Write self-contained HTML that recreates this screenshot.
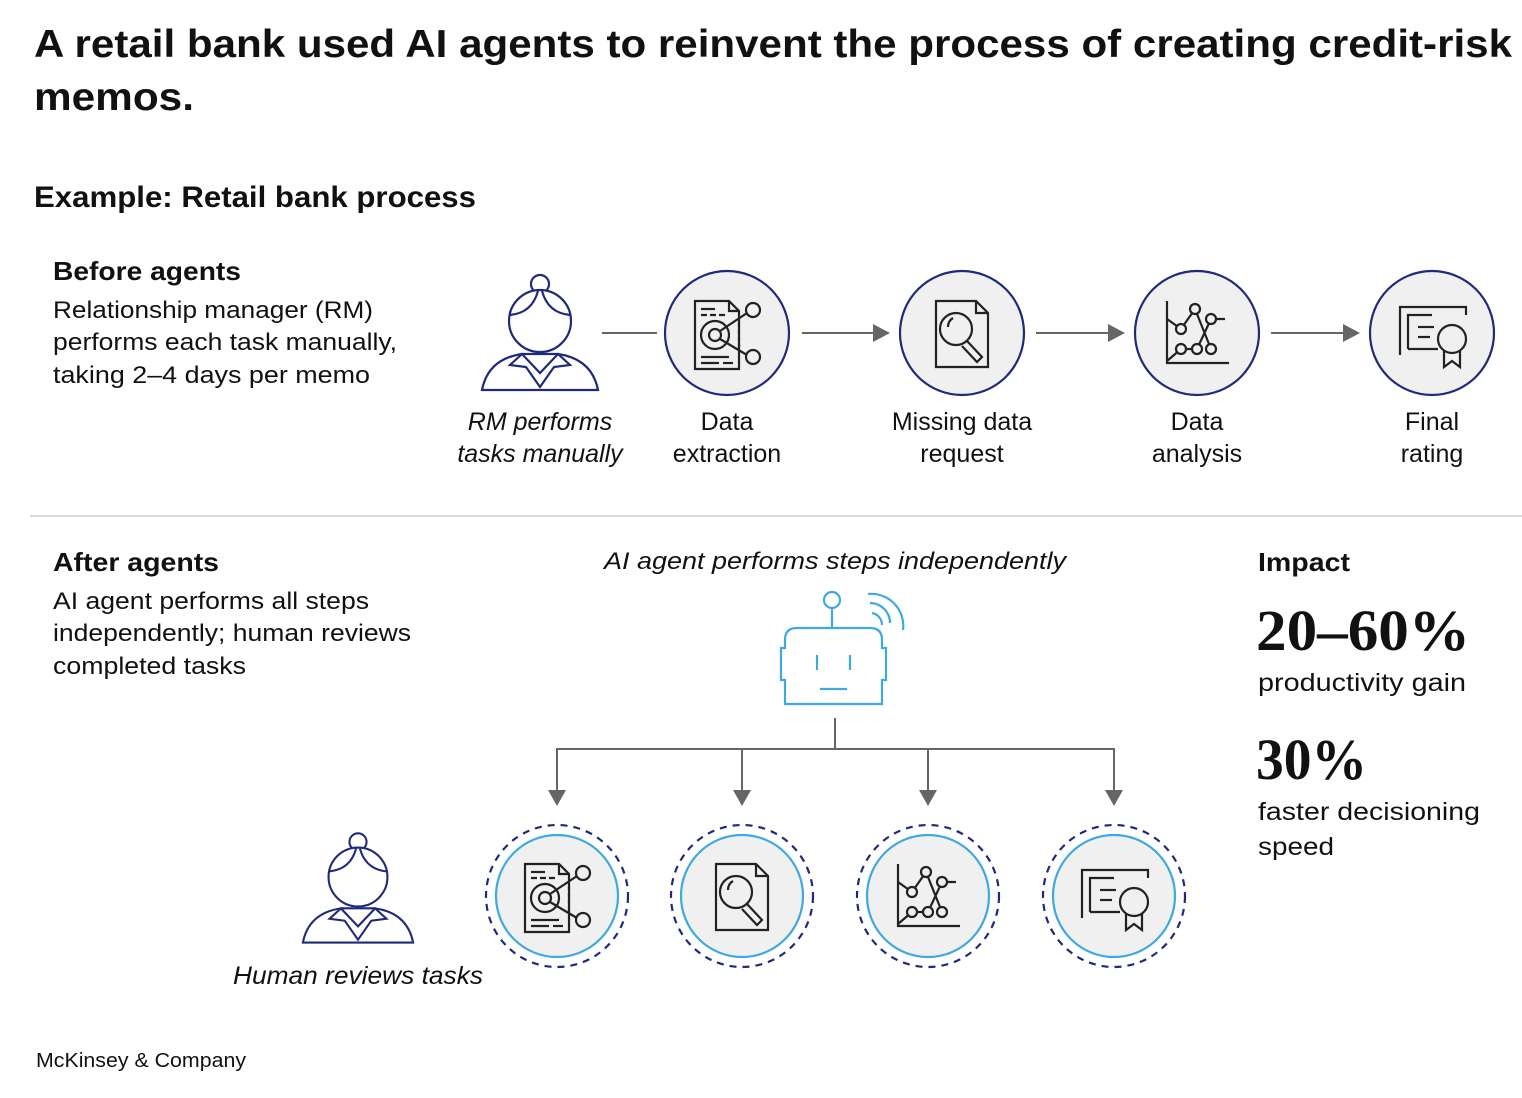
<!DOCTYPE html>
<html><head><meta charset="utf-8"><style>
html,body{margin:0;padding:0;background:#fff}
svg{display:block}
text{font-family:"Liberation Sans",sans-serif;fill:#111}
.b{font-weight:bold}
.i{font-style:italic}
</style></head><body>
<svg width="1522" height="1098" viewBox="0 0 1522 1098" xmlns="http://www.w3.org/2000/svg">
<defs>
<g id="ext" fill="none" stroke="#222" stroke-width="2.2">
 <path d="M-30,-32 H4 L14,-22 V36 H-30 Z"/><path d="M4,-32 V-22 H14"/>
 <line x1="-24" y1="-24" x2="-10" y2="-24"/><line x1="-24" y1="-18" x2="2" y2="-18" stroke-dasharray="6 3"/>
 <circle cx="-10" cy="2" r="14"/><circle cx="-10" cy="2" r="6"/>
 <line x1="-5" y1="-2" x2="22" y2="-20"/><line x1="-5" y1="6" x2="22" y2="22"/>
 <circle cx="28" cy="-23" r="7"/><circle cx="28" cy="24" r="7"/>
 <line x1="14" y1="-10" x2="14" y2="16" stroke-dasharray="4 3"/>
 <line x1="-24" y1="24" x2="4" y2="24"/><line x1="-24" y1="30" x2="-6" y2="30"/><line x1="-2" y1="30" x2="8" y2="30"/>
</g>
<g id="srch" fill="none" stroke="#222" stroke-width="2.2">
 <path d="M-26,-32 H14 L26,-20 V34 H-26 Z"/><path d="M14,-32 V-20 H26"/>
 <circle cx="-6" cy="-4" r="16"/><path d="M-14,-6 Q-14,-12 -9,-15"/>
 <path d="M5,8 L20,24 L15,29 L0,13"/>
</g>
<g id="anl" fill="none" stroke="#222" stroke-width="2.2">
 <path d="M-28,-32 V30 H34"/>
 <path d="M-28,-14 L-14,-4 M-14,-4 L0,-24 M0,-24 L16,16 M16,-14 L2,16 M16,-14 H30 M-28,28 L-14,16 M-14,16 H2"/>
 <g fill="#f0f0f0"><circle cx="-14" cy="-4" r="5"/><circle cx="0" cy="-24" r="5"/><circle cx="16" cy="-14" r="5"/><circle cx="-14" cy="16" r="5"/><circle cx="2" cy="16" r="5"/><circle cx="16" cy="16" r="5"/></g>
</g>
<g id="cert" fill="none" stroke="#222" stroke-width="2.2">
 <path d="M-32,22 V-26 H34 V-18"/><path d="M-24,16 V-18 H0"/><path d="M-24,16 H6"/>
 <line x1="-14" y1="-6" x2="2" y2="-6"/><line x1="-14" y1="4" x2="-2" y2="4"/>
 <circle cx="20" cy="6" r="14" fill="#f0f0f0"/>
 <path d="M12,18 V34 L20,28 L28,34 V18"/>
</g>
<g id="person" fill="#fff" stroke="#1f2a7a" stroke-width="2.2">
 <circle cx="0" cy="-37" r="9"/>
 <circle cx="0" cy="0" r="31"/>
 <path d="M-30,-6 Q-8,-8 -2,-30 M30,-6 Q8,-8 2,-30" fill="none"/>
 <path d="M-58,69 Q-52,38 -18,33 L18,33 Q52,38 58,69 Z"/>
 <path d="M-18,33 L-30,44 L-14,46 L0,66 L14,46 L30,44 L18,33 L0,52 Z"/>
</g>
</defs>

<text x="34" y="57" font-size="39" class="b" textLength="1478" lengthAdjust="spacingAndGlyphs">A retail bank used AI agents to reinvent the process of creating credit-risk</text>
<text x="34" y="110" font-size="39" class="b" textLength="160" lengthAdjust="spacingAndGlyphs">memos.</text>
<text x="34" y="207" font-size="30" class="b" textLength="442" lengthAdjust="spacingAndGlyphs">Example: Retail bank process</text>

<text x="53" y="280" font-size="26" class="b" textLength="188" lengthAdjust="spacingAndGlyphs">Before agents</text>
<g font-size="24">
<text x="53" y="318" textLength="320" lengthAdjust="spacingAndGlyphs">Relationship manager (RM)</text>
<text x="53" y="350" textLength="344" lengthAdjust="spacingAndGlyphs">performs each task manually,</text>
<text x="53" y="383" textLength="317" lengthAdjust="spacingAndGlyphs">taking 2–4 days per memo</text>
</g>

<use href="#person" x="540" y="321"/>
<g stroke="#666" stroke-width="2">
<line x1="602" y1="333" x2="657" y2="333"/>
<line x1="802" y1="333" x2="875" y2="333"/>
<line x1="1036" y1="333" x2="1110" y2="333"/>
<line x1="1271" y1="333" x2="1345" y2="333"/>
</g>
<g fill="#666">
<path d="M873,324 L890,333 L873,342 Z"/><path d="M1108,324 L1125,333 L1108,342 Z"/><path d="M1343,324 L1360,333 L1343,342 Z"/>
</g>
<g fill="#f0f0f0" stroke="#1f2a7a" stroke-width="2.2">
<circle cx="727" cy="333" r="62"/><circle cx="962" cy="333" r="62"/><circle cx="1197" cy="333" r="62"/><circle cx="1432" cy="333" r="62"/>
</g>
<use href="#ext" x="725" y="333"/><use href="#srch" x="962" y="333"/><use href="#anl" x="1195" y="333"/><use href="#cert" x="1432" y="333"/>

<g font-size="25" text-anchor="middle">
<text x="540" y="430" class="i">RM performs</text><text x="540" y="462" class="i">tasks manually</text>
<text x="727" y="430">Data</text><text x="727" y="462">extraction</text>
<text x="962" y="430">Missing data</text><text x="962" y="462">request</text>
<text x="1197" y="430">Data</text><text x="1197" y="462">analysis</text>
<text x="1432" y="430">Final</text><text x="1432" y="462">rating</text>
</g>

<line x1="30" y1="516" x2="1522" y2="516" stroke="#d0d0d0" stroke-width="1.5"/>

<text x="53" y="571" font-size="26" class="b" textLength="166" lengthAdjust="spacingAndGlyphs">After agents</text>
<g font-size="24">
<text x="53" y="609" textLength="316" lengthAdjust="spacingAndGlyphs">AI agent performs all steps</text>
<text x="53" y="641" textLength="358" lengthAdjust="spacingAndGlyphs">independently; human reviews</text>
<text x="53" y="674" textLength="193" lengthAdjust="spacingAndGlyphs">completed tasks</text>
</g>
<text x="604" y="569" font-size="24" class="i" textLength="462" lengthAdjust="spacingAndGlyphs">AI agent performs steps independently</text>

<g fill="none" stroke="#3fa9e0" stroke-width="2.2">
<circle cx="832" cy="600" r="8"/><line x1="832" y1="608" x2="832" y2="628"/>
<path d="M785,704 V680 H781 V648 H785 V640 Q785,628 797,628 H870 Q882,628 882,640 V648 H886 V680 H882 V704 Z"/>
<line x1="817" y1="655" x2="817" y2="670"/><line x1="850" y1="655" x2="850" y2="670"/><line x1="820" y1="689" x2="847" y2="689"/>
<path d="M870,603 A20,20 0 0 1 890,623 M872,613 A12,12 0 0 1 882,625 M868,594 A32,32 0 0 1 903,630"/>
</g>

<g stroke="#666" stroke-width="2" fill="none">
<path d="M835,718 V749 M557,790 V749 H1114 V790 M742,749 V790 M928,749 V790"/>
</g>
<g fill="#666">
<path d="M548,790 L566,790 L557,806 Z"/><path d="M733,790 L751,790 L742,806 Z"/><path d="M919,790 L937,790 L928,806 Z"/><path d="M1105,790 L1123,790 L1114,806 Z"/>
</g>

<g>
<g fill="none" stroke="#1f2a7a" stroke-width="2.2" stroke-dasharray="7 6">
<circle cx="557" cy="896" r="71"/><circle cx="742" cy="896" r="71"/><circle cx="928" cy="896" r="71"/><circle cx="1114" cy="896" r="71"/>
</g>
<g fill="#f0f0f0" stroke="#3fa9e0" stroke-width="2.2">
<circle cx="557" cy="896" r="61"/><circle cx="742" cy="896" r="61"/><circle cx="928" cy="896" r="61"/><circle cx="1114" cy="896" r="61"/>
</g>
</g>
<use href="#ext" x="555" y="896"/><use href="#srch" x="742" y="896"/><use href="#anl" x="926" y="896"/><use href="#cert" x="1114" y="896"/>

<use href="#person" x="0" y="0" transform="translate(358,877) scale(0.95)"/>
<text x="233" y="984" font-size="25" class="i" textLength="250" lengthAdjust="spacingAndGlyphs">Human reviews tasks</text>

<text x="1258" y="571" font-size="26" class="b" textLength="92" lengthAdjust="spacingAndGlyphs">Impact</text>
<text x="1256" y="650" font-size="58" font-weight="bold" style="font-family:'Liberation Serif',serif" fill="#0f2238" textLength="214" lengthAdjust="spacingAndGlyphs">20–60%</text>
<text x="1258" y="691" font-size="25" textLength="208" lengthAdjust="spacingAndGlyphs">productivity gain</text>
<text x="1256" y="779" font-size="58" font-weight="bold" style="font-family:'Liberation Serif',serif" fill="#0f2238" textLength="111" lengthAdjust="spacingAndGlyphs">30%</text>
<text x="1258" y="820" font-size="25" textLength="222" lengthAdjust="spacingAndGlyphs">faster decisioning</text>
<text x="1258" y="855" font-size="25" textLength="76" lengthAdjust="spacingAndGlyphs">speed</text>

<text x="36" y="1067" font-size="20" textLength="210" lengthAdjust="spacingAndGlyphs">McKinsey &amp; Company</text>
</svg>
</body></html>
